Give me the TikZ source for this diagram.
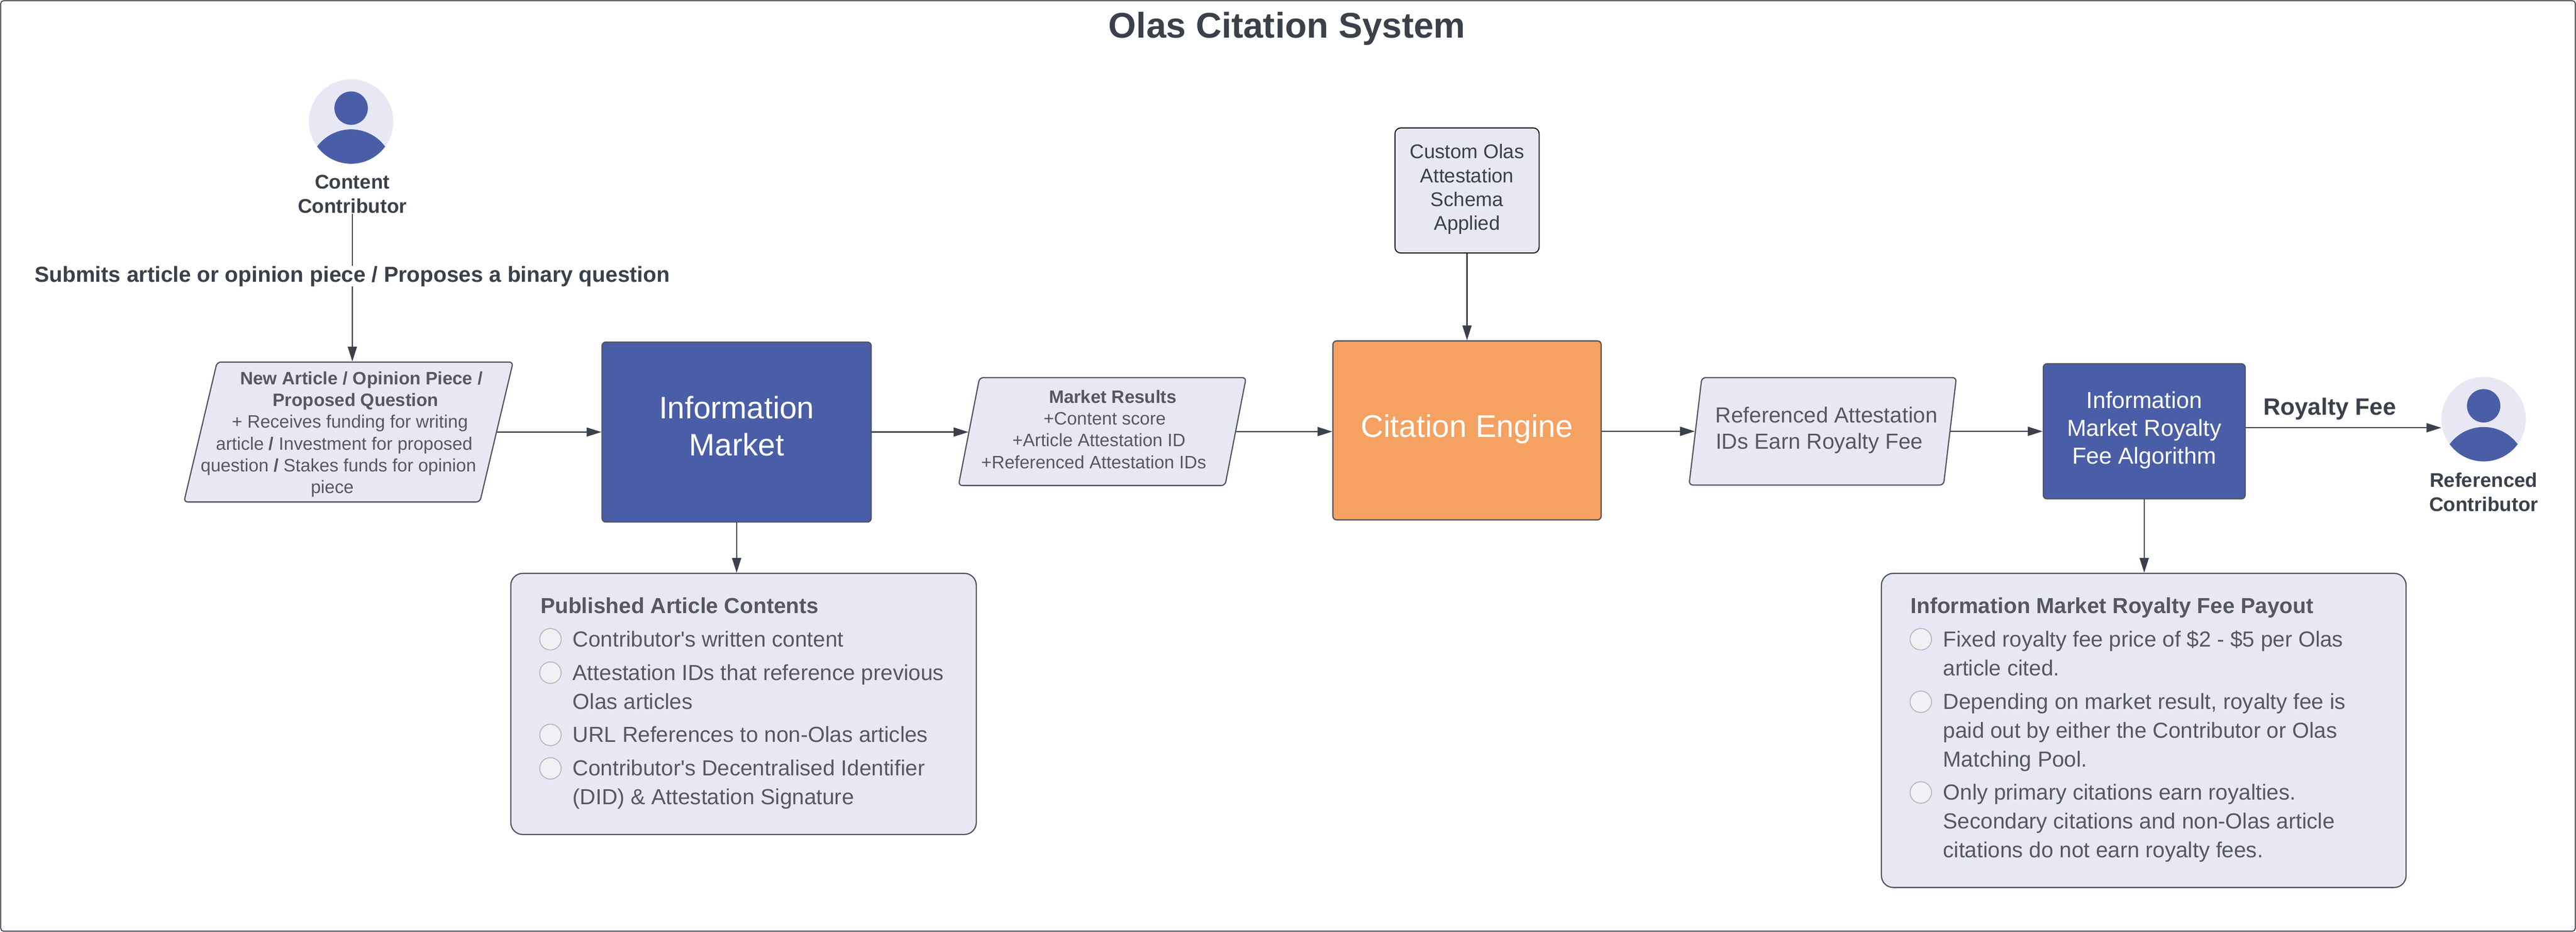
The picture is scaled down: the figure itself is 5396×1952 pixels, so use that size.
\documentclass[tikz,border=0pt]{standalone}
\usepackage{fontspec}
\setmainfont{Liberation Sans}[Ligatures=TeXOff]
\usetikzlibrary{shapes.geometric, arrows.meta}
\definecolor{ink}{HTML}{3A414A}
\definecolor{greytext}{HTML}{55595E}
\definecolor{edge}{HTML}{50555C}
\definecolor{lilac}{HTML}{E8E8F4}
\definecolor{boxblue}{HTML}{4A5EA8}
\definecolor{boxorange}{HTML}{F5A161}
\definecolor{dotfill}{HTML}{F0F1F5}
\definecolor{dotedge}{HTML}{B8B8BC}
\newcommand{\pad}[1]{\rule{#1}{0pt}}
\newcommand{\flatline}[1]{\makebox[0pt]{#1}}
\tikzstyle{frame} = [rectangle, rounded corners=6pt, minimum width=5393pt, minimum height=1949pt, line width=2pt, draw=ink, fill=white]
\tikzstyle{heading} = [font=\fontsize{74.7}{90}\selectfont\bfseries, text=ink, inner sep=0pt]
\tikzstyle{person} = [circle, minimum size=177pt, inner sep=0pt, fill=lilac]
\tikzstyle{persontext} = [font=\fontsize{41.5}{50}\selectfont\bfseries, text=ink, align=center, inner sep=2pt]
\tikzstyle{flowtext} = [font=\fontsize{45.7}{55}\selectfont\bfseries, text=ink, inner sep=0pt]
\tikzstyle{process} = [rectangle, rounded corners=8pt, line width=2.5pt, draw=edge, fill=boxblue, text=white, align=center]
\tikzstyle{slanted} = [trapezium, trapezium left angle=76, trapezium right angle=104, trapezium stretches=true, rounded corners=8pt, inner sep=0pt, line width=2.5pt, draw=edge, fill=lilac, text=greytext, align=center]
\tikzstyle{small} = [font=\fontsize{37.6}{45.7}\selectfont]
\tikzstyle{schema} = [rectangle, rounded corners=12pt, minimum width=302pt, minimum height=262pt, line width=2pt, draw=black, fill=lilac, text=ink, align=center, font=\fontsize{41.5}{50}\selectfont]
\tikzstyle{panel} = [rectangle, rounded corners=25pt, line width=2.5pt, draw=edge, fill=lilac]
\tikzstyle{panelhead} = [font=\fontsize{45.6}{55}\selectfont\bfseries, text=greytext, inner sep=0pt, text height=34pt, text depth=10pt, anchor=west]
\tikzstyle{dot} = [circle, minimum size=45pt, inner sep=0pt, line width=2pt, draw=dotedge, fill=dotfill]
\tikzstyle{itemtext} = [font=\fontsize{45.7}{60.5}\selectfont, text=greytext, inner sep=0pt, align=left, anchor=north west, yshift=27pt]
\tikzstyle{arrow} = [line width=2.5pt, draw=ink, ->, >={Triangle[length=31pt,width=19pt]}]
\tikzstyle{plain} = [line width=2.5pt, draw=ink]

\begin{document}
\begin{tikzpicture}[x=1pt, y=1pt, node distance=750pt]

\useasboundingbox (0,0) rectangle (5396,-1952);
\node (frame) [frame] at (2698,-976) {};
\node (title) [heading, node distance=916.5pt, above of=frame, xshift=-2pt] {Olas Citation System};

% main row
\node (market) [process, minimum width=564pt, minimum height=377pt, font=\fontsize{65}{78}\selectfont] at (1543,-905) {Information\\Market\\[-52pt]\mbox{}};
\node (input) [slanted, small, minimum width=696pt, minimum height=293pt, left of=market, xshift=-63pt] {\pad{540pt}\\[-8.7pt]\flatline{\textbf{\pad{54pt}New Article / Opinion Piece /}}\\\flatline{\textbf{\pad{30pt}Proposed Question}}\\\flatline{\pad{6pt}+ Receives funding for writing}\\\flatline{article \textbf{/} Investment for proposed\pad{18pt}}\\\flatline{question \textbf{/} Stakes funds for opinion\pad{42pt}}\\\flatline{piece\pad{68pt}}};
\node (results) [slanted, small, minimum width=604pt, minimum height=226pt, right of=market, xshift=16pt, yshift=1pt] {\textbf{\pad{44pt}Market Results}\\\pad{10pt}+Content score\\+Article Attestation ID\pad{14pt}\\+Referenced Attestation IDs\pad{36pt}\\[-35.7pt]\mbox{}};
\node (engine) [process, minimum width=562pt, minimum height=375pt, fill=boxorange, font=\fontsize{65.5}{78}\selectfont, right of=results, xshift=14pt, yshift=2.5pt] {Citation Engine\\[-58pt]\mbox{}};
\node (earned) [slanted, minimum width=561pt, minimum height=225pt, font=\fontsize{45.7}{55}\selectfont, right of=engine, xshift=-5pt, yshift=-2pt] {\pad{16pt}Referenced Attestation\\IDs Earn Royalty Fee\pad{14pt}\\[-41pt]\mbox{}};
\node (algorithm) [process, minimum width=423pt, minimum height=283pt, font=\fontsize{48.5}{58.4}\selectfont, right of=earned, xshift=-76.5pt] {Information\\Market Royalty\\Fee Algorithm\\[-44pt]\mbox{}};
\node (schema) [schema, above of=engine, yshift=-247.5pt] {Custom Olas\\Attestation\\Schema\\Applied\\[-36pt]\mbox{}};

% people
\node (contentperson) [person, above of=input, xshift=5.5pt, yshift=-99.5pt] {};
\node (contentlabel) [persontext, node distance=152pt, below of=contentperson, xshift=2.5pt] {Content\\Contributor};
\node (submits) [flowtext, node distance=172pt, below of=contentlabel] {Submits article or opinion piece / Proposes a binary question};
\node (refperson) [person, right of=algorithm, xshift=-39pt, yshift=25.5pt] {};
\node (reflabel) [persontext, node distance=153pt, below of=refperson] {Referenced\\Contributor};
\node (royalty) [flowtext, node distance=388.5pt, right of=algorithm, yshift=46.5pt, font=\fontsize{49.5}{60}\selectfont\bfseries] {Royalty Fee};
\foreach \who in {contentperson, refperson} {
  \fill [boxblue, shift={(\who)}] (0,28) circle (35pt);
  \begin{scope}
    \clip [shift={(\who)}] (0,0) circle (88.5pt);
    \fill [boxblue, shift={(\who)}] (0,-105) circle (88.5pt);
  \end{scope}
}

% left panel
\node (articles) [panel, minimum width=975pt, minimum height=547pt, below of=market, xshift=14.5pt, yshift=180.5pt] {};
\node (articleshead) [node distance=201.5pt, above of=articles, xshift=-425.5pt, panelhead] {Published Article Contents};
\node (dotA) [dot, node distance=135.5pt, above of=articles, xshift=-404.5pt] {};
\node (dotB) [dot, node distance=70pt, below of=dotA] {};
\node (dotC) [dot, node distance=130.5pt, below of=dotB] {};
\node (dotD) [dot, node distance=70pt, below of=dotC] {};
\node (itemA) [node distance=46.5pt, right of=dotA, itemtext] {\strut Contributor's written content};
\node (itemB) [node distance=46.5pt, right of=dotB, itemtext] {\strut Attestation IDs that reference previous\\Olas articles};
\node (itemC) [node distance=46.5pt, right of=dotC, itemtext] {\strut URL References to non-Olas articles};
\node (itemD) [node distance=46.5pt, right of=dotD, itemtext] {\strut Contributor's Decentralised Identifier\\(DID) \& Attestation Signature};

% right panel
\node (payout) [panel, minimum width=1099pt, minimum height=658pt, below of=algorithm, xshift=-1pt, yshift=123.5pt] {};
\node (payouthead) [node distance=257pt, above of=payout, xshift=-488.5pt, panelhead] {Information Market Royalty Fee Payout};
\node (dotE) [dot, node distance=191pt, above of=payout, xshift=-467pt] {};
\node (dotF) [dot, node distance=131pt, below of=dotE] {};
\node (dotG) [dot, node distance=190pt, below of=dotF] {};
\node (itemE) [node distance=46.5pt, right of=dotE, itemtext] {\strut Fixed royalty fee price of \$2 - \$5 per Olas\\article cited.};
\node (itemF) [node distance=46.5pt, right of=dotF, itemtext] {\strut Depending on market result, royalty fee is\\paid out by either the Contributor or Olas\\Matching Pool.};
\node (itemG) [node distance=46.5pt, right of=dotG, itemtext] {\strut Only primary citations earn royalties.\\Secondary citations and non-Olas article\\citations do not earn royalty fees.};

\draw [plain] (contentlabel) -- (submits);
\draw [arrow] (submits) -- ([xshift=8pt]input.north);
\draw [arrow] (input) -- (market);
\draw [arrow] (market) -- (market -| results.west);
\draw [arrow] (results) -- (results -| engine.west);
\draw [arrow] (schema) -- (engine);
\draw [arrow] (engine.east |- earned) -- (earned);
\draw [arrow] (earned) -- (algorithm);
\draw [arrow] ([yshift=7.5pt]algorithm.east) -- ([yshift=-18pt]refperson.west);
\draw [arrow] (market) -- ([xshift=-14.5pt]articles.north);
\draw [arrow] (algorithm) -- (algorithm |- payout.north);

\end{tikzpicture}
\end{document}
